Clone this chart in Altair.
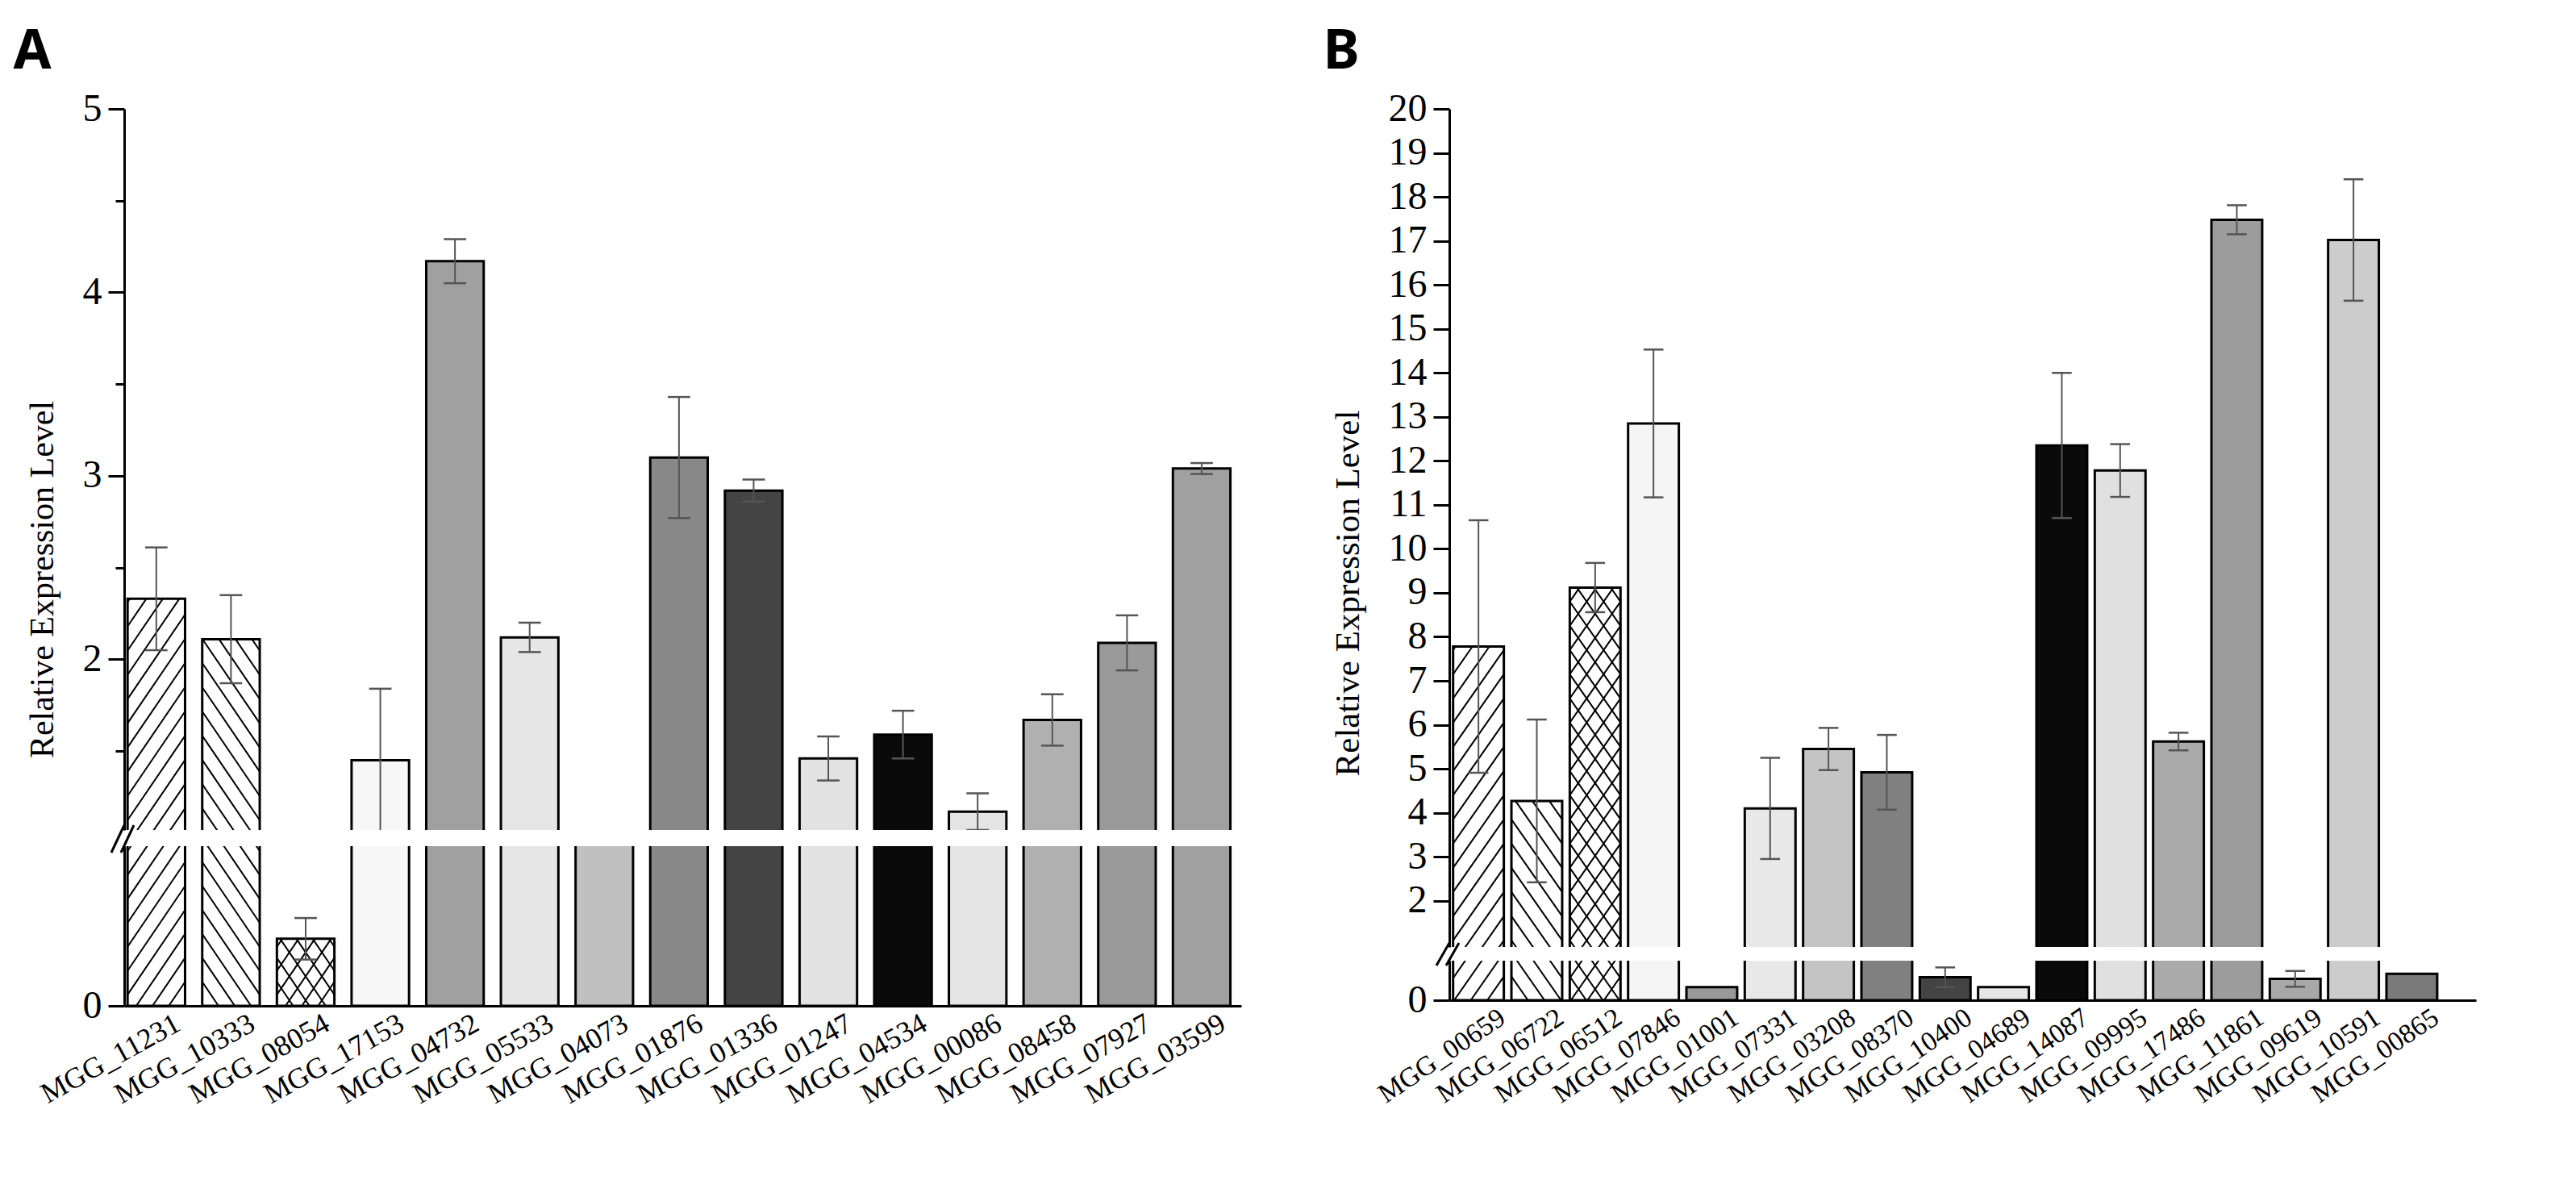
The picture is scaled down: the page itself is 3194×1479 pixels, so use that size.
import altair as alt
import pandas as pd

# ---------------- Panel A data ----------------
genes_a = ["MGG_11231", "MGG_10333", "MGG_08054", "MGG_17153", "MGG_04732",
           "MGG_05533", "MGG_04073", "MGG_01876", "MGG_01336", "MGG_01247",
           "MGG_04534", "MGG_00086", "MGG_08458", "MGG_07927", "MGG_03599"]
values_a = [2.33, 2.11, 0.42, 1.45, 4.17, 2.12, 1.02, 3.10, 2.92, 1.46,
            1.59, 1.17, 1.67, 2.09, 3.04]
errors_a = [0.28, 0.24, 0.13, 0.39, 0.12, 0.08, 0.0, 0.33, 0.06, 0.12,
            0.13, 0.10, 0.14, 0.15, 0.03]
fills_a = ["#ffffff", "#ffffff", "#ffffff", "#f7f7f7", "#a0a0a0",
           "#e6e6e6", "#c0c0c0", "#888888", "#444444", "#e2e2e2",
           "#0a0a0a", "#e4e4e4", "#b0b0b0", "#9a9a9a", "#a0a0a0"]
patterns_a = ["fwd", "back", "cross", "none", "none", "none", "none", "none",
              "none", "none", "none", "none", "none", "none", "none"]

# ---------------- Panel B data ----------------
genes_b = ["MGG_00659", "MGG_06722", "MGG_06512", "MGG_07846", "MGG_01001",
           "MGG_07331", "MGG_03208", "MGG_08370", "MGG_10400", "MGG_04689",
           "MGG_14087", "MGG_09995", "MGG_17486", "MGG_11861", "MGG_09619",
           "MGG_10591", "MGG_00865"]
values_b = [7.78, 4.27, 9.12, 12.85, 0.33, 4.10, 5.45, 4.92, 0.58, 0.33,
            12.35, 11.78, 5.62, 17.48, 0.54, 17.02, 0.67]
errors_b = [2.87, 1.85, 0.56, 1.68, 0.0, 1.15, 0.48, 0.85, 0.25, 0.0,
            1.65, 0.60, 0.20, 0.33, 0.20, 1.38, 0.0]
fills_b = ["#ffffff", "#ffffff", "#ffffff", "#f5f5f5", "#999999",
           "#e8e8e8", "#c4c4c4", "#808080", "#444444", "#e6e6e6",
           "#0a0a0a", "#e0e0e0", "#aaaaaa", "#9c9c9c", "#a8a8a8",
           "#cccccc", "#7a7a7a"]
patterns_b = ["fwd", "back", "cross", "none", "none", "none", "none", "none",
              "none", "none", "none", "none", "none", "none", "none", "none",
              "none"]

SERIF = "Liberation Serif"
LETTER_FONT = "Liberation Sans Narrow, Noto Sans, sans-serif"


def make_df(genes, values, errors, fills, patterns):
    return pd.DataFrame({"idx": list(range(len(genes))), "gene": genes,
                         "value": values, "err": errors, "fill": fills,
                         "pattern": patterns})


def y_axis(values, title=None, title_y=None, title_pad=28, title_size=42):
    kw = dict(values=values, grid=False, domainColor="black", domainWidth=3,
              tickColor="black", tickWidth=3,
              tickSize={"condition": {"test": "datum.value % 1 != 0", "value": 11}, "value": 20},
              labelExpr="datum.value % 1 ? '' : format(datum.value, 'd')",
              labelFont=SERIF, labelFontSize=48, labelColor="black",
              labelPadding=8, labelOverlap=False)
    if title is not None:
        kw.update(title=title, titleFont=SERIF, titleFontSize=title_size,
                  titleFontWeight="normal", titleColor="black",
                  titlePadding=title_pad, titleY=title_y)
    else:
        kw.update(title=None)
    return alt.Axis(**kw)


def segment(df, genes, y_dom, height, width, x_dom, half, cap, hh, hs,
            yaxis, show_x, xfont=33, xangle=-30, xoff=0, breaks=None):
    xs = alt.Scale(domain=x_dom, nice=False, zero=False)
    ys = alt.Scale(domain=y_dom, nice=False, zero=False)
    if show_x:
        arr = "[" + ",".join("'" + g + "'" for g in genes) + "]"
        xaxis = alt.Axis(values=list(range(len(genes))), labelExpr=arr + "[datum.value]",
                         ticks=False, grid=False, title=None, labelAngle=xangle,
                         labelAlign="right", labelBaseline="top", labelFont=SERIF,
                         labelFontSize=xfont, labelColor="black", labelPadding=4,
                         labelOffset=xoff,
                         labelFlush=False, labelOverlap=False, labelLimit=1000,
                         domainColor="black", domainWidth=3)
    else:
        xaxis = None
    base = alt.Chart(df)
    bars = (base.transform_calculate(xl=f"datum.idx - {half}")
            .transform_calculate(xr=f"datum.idx + {half}")
            .mark_rect(stroke="black", strokeWidth=3, clip=True)
            .encode(x=alt.X("xl:Q", scale=xs, axis=xaxis),
                    x2="xr:Q",
                    y=alt.Y("value:Q", scale=ys, axis=yaxis),
                    y2=alt.datum(0),
                    fill=alt.Fill("fill:N", scale=None)))
    hatch = (base.transform_filter("datum.pattern != 'none'")
             .transform_calculate(ks=f"sequence({-hh}, datum.value, {hs})")
             .transform_flatten(["ks"], as_=["k"])
             .transform_calculate(ds="datum.pattern == 'cross' ? [1, -1] : (datum.pattern == 'fwd' ? [1] : [-1])")
             .transform_flatten(["ds"], as_=["d"])
             .transform_calculate(xa=f"datum.idx - {half}")
             .transform_calculate(xb=f"datum.idx + {half}")
             .transform_calculate(ya=f"datum.d > 0 ? datum.k : datum.k + {hh}")
             .transform_calculate(yb=f"datum.d > 0 ? datum.k + {hh} : datum.k")
             .transform_calculate(tA="(0 - datum.ya) / (datum.yb - datum.ya)")
             .transform_calculate(tB="(datum.value - datum.ya) / (datum.yb - datum.ya)")
             .transform_calculate(tlo="max(0, min(datum.tA, datum.tB))")
             .transform_calculate(thi="min(1, max(datum.tA, datum.tB))")
             .transform_filter("datum.tlo < datum.thi")
             .transform_calculate(hx1="datum.xa + datum.tlo * (datum.xb - datum.xa)")
             .transform_calculate(hx2="datum.xa + datum.thi * (datum.xb - datum.xa)")
             .transform_calculate(hy1="datum.ya + datum.tlo * (datum.yb - datum.ya)")
             .transform_calculate(hy2="datum.ya + datum.thi * (datum.yb - datum.ya)")
             .mark_rule(color="black", strokeWidth=2, clip=True)
             .encode(x=alt.X("hx1:Q", scale=xs, axis=xaxis), x2="hx2:Q",
                     y=alt.Y("hy1:Q", scale=ys, axis=yaxis), y2="hy2:Q"))
    errd = (base.transform_filter("datum.err > 0")
            .transform_calculate(lo="datum.value - datum.err")
            .transform_calculate(hi="datum.value + datum.err")
            .transform_calculate(cl=f"datum.idx - {cap}")
            .transform_calculate(cr=f"datum.idx + {cap}"))
    stem = errd.mark_rule(color="#555555", strokeWidth=2, clip=True).encode(
        x=alt.X("idx:Q", scale=xs, axis=xaxis),
        y=alt.Y("lo:Q", scale=ys, axis=yaxis), y2="hi:Q")
    cap_hi = errd.mark_rule(color="#555555", strokeWidth=2.5, clip=True).encode(
        x=alt.X("cl:Q", scale=xs, axis=xaxis), x2="cr:Q",
        y=alt.Y("hi:Q", scale=ys, axis=yaxis))
    cap_lo = errd.mark_rule(color="#555555", strokeWidth=2.5, clip=True).encode(
        x=alt.X("cl:Q", scale=xs, axis=xaxis), x2="cr:Q",
        y=alt.Y("lo:Q", scale=ys, axis=yaxis))
    layers = [bars, hatch, stem, cap_hi, cap_lo]
    if breaks:
        bdf = pd.DataFrame({"k": [0]})
        for (xa, ya, xb, yb) in breaks:
            layers.append(alt.Chart(bdf).mark_rule(color="black", strokeWidth=3).encode(
                x=alt.value(xa), y=alt.value(ya), x2=alt.value(xb), y2=alt.value(yb)))
    return alt.layer(*layers).properties(width=width, height=height)


df_a = make_df(genes_a, values_a, errors_a, fills_a, patterns_a)
df_b = make_df(genes_b, values_b, errors_b, fills_b, patterns_b)

# Panel A
xdom_a = [-0.43, 14.53]
upA = segment(df_a, genes_a, [1.07, 5], 894, 1385, xdom_a, 0.385, 0.15, 0.46, 0.132,
              y_axis([1.5, 2, 2.5, 3, 3.5, 4, 4.5, 5], "Relative Expression Level", 583, 28),
              False)
loA = segment(df_a, genes_a, [0, 1], 198, 1385, xdom_a, 0.385, 0.15, 0.53, 0.15,
              y_axis([0]), True, 36, -29, 18,
              breaks=[(-16, 8, 0, -26), (-4, 8, 12, -26)])
panelA = alt.vconcat(upA, loA, spacing=20, bounds="flush").properties(
    title=alt.TitleParams("A", anchor="start", font=LETTER_FONT, fontSize=68,
                          fontWeight="bold", color="black", offset=12, dx=-14))

# Panel B
xdom_b = [-0.5, 17.1]
upB = segment(df_b, genes_b, [0.95, 20], 1039, 1273, xdom_b, 0.435, 0.17, 1.65, 0.55,
              y_axis(list(range(2, 21)), "Relative Expression Level", 600, 28, 43),
              False)
loB = segment(df_b, genes_b, [0, 1], 49, 1273, xdom_b, 0.435, 0.17, 1.84, 0.6,
              y_axis([0]), True, 34, -34, 20,
              breaks=[(-16, 6, 0, -22), (-4, 6, 12, -22)])
panelB = alt.vconcat(upB, loB, spacing=17, bounds="flush").properties(
    title=alt.TitleParams("B", anchor="start", font=LETTER_FONT, fontSize=68,
                          fontWeight="bold", color="black", offset=12, dx=-9))

chart = (alt.hconcat(panelA, panelB, spacing=100)
         .configure_view(stroke="transparent")
         .properties(background="white",
                     padding={"left": 8, "top": 22, "right": 5, "bottom": 5}))

chart.save("out.html", embed_options={"renderer": "svg", "actions": False})
